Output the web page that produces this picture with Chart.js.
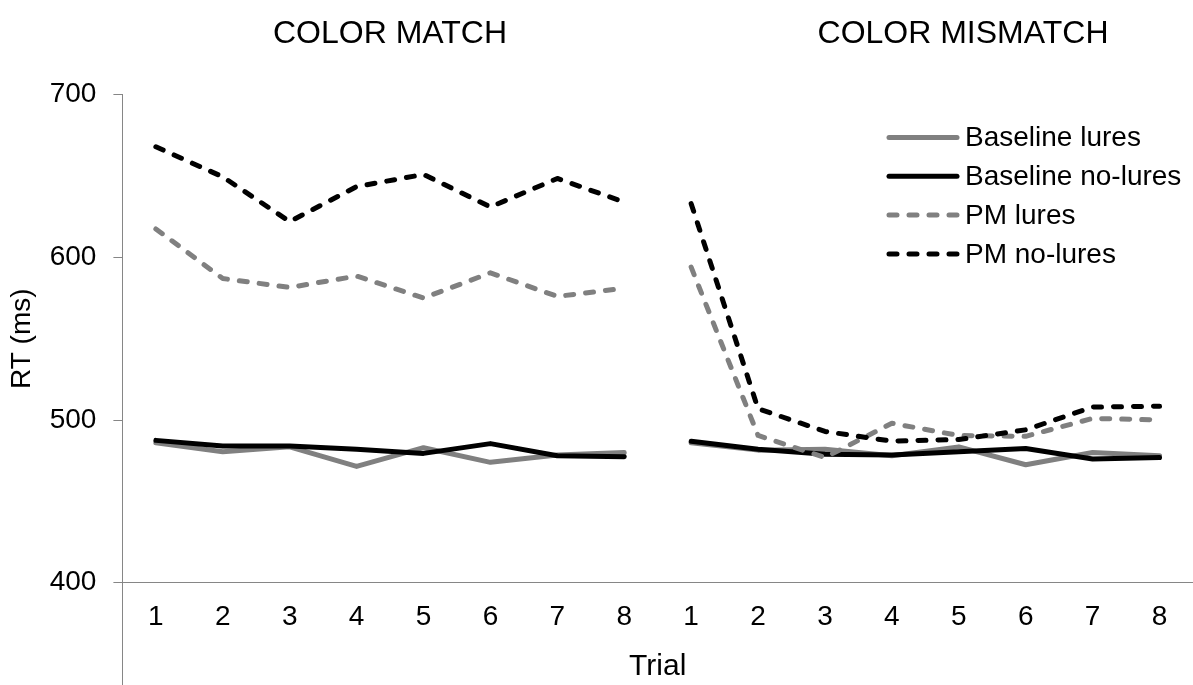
<!DOCTYPE html>
<html>
<head>
<meta charset="utf-8">
<script src="https://cdn.jsdelivr.net/npm/chart.js@4"></script>
<style>
  html, body { margin: 0; padding: 0; background: #fff; }
  #wrap { position: relative; width: 1193px; height: 685px; }
</style>
</head>
<body>
<div id="wrap"><canvas id="chart"></canvas></div>
<script>
// ── Data ─────────────────────────────────────────────────────────────────────

const TRIALS     = ['1', '2', '3', '4', '5', '6', '7', '8'];
const CONDITIONS = ['COLOR MATCH', 'COLOR MISMATCH'];
const SERIES     = ['Baseline lures', 'Baseline no-lures', 'PM lures', 'PM no-lures'];
const Y_TICKS    = [400, 500, 600, 700];

// RT (ms) per trial, color match block then color mismatch block
const BASE_LURES_MATCH      = [486, 480.5, 483.5, 471.5, 483, 474, 478.5, 480];
const BASE_LURES_MISMATCH   = [486, 481.5, 482, 478, 483.5, 472.5, 480, 478];
const BASE_NOLURES_MATCH    = [487.5, 484, 484, 482, 479.5, 485.5, 478, 477.5];
const BASE_NOLURES_MISMATCH = [487, 482, 479, 478.5, 480.5, 482.5, 476, 477];
const PM_LURES_MATCH        = [617.5, 587, 581.5, 588.5, 575, 590.5, 576, 581];
const PM_LURES_MISMATCH     = [594, 490.5, 477, 498, 490.5, 490, 501, 500];
const PM_NOLURES_MATCH      = [668, 649.5, 622, 643.5, 651, 631, 648.5, 634];
const PM_NOLURES_MISMATCH   = [633, 507, 493, 487, 488, 494, 508, 508.5];

const C_GREY  = '#808080';
const C_BLACK = '#000000';
const C_AXIS  = '#868686';
const FONT    = '"Liberation Sans", Arial, sans-serif';

Chart.defaults.font.family = FONT;
Chart.defaults.color = C_BLACK;

// ── Helpers ──────────────────────────────────────────────────────────────────

const labels = [...TRIALS, ...TRIALS];

// no connecting segment between trial 8 of one block and trial 1 of the next
const breakBlocks = ctx => ctx.p0DataIndex === TRIALS.length - 1 ? 'rgba(0,0,0,0)' : undefined;

function series(label, match, mismatch, color, dashed, order) {
  return {
    label,
    data: [...match, ...mismatch],
    borderColor: color,
    backgroundColor: color,
    borderWidth: 5,
    borderDash: dashed ? [8, 12] : [],
    borderCapStyle: 'round',
    borderJoinStyle: 'round',
    pointRadius: 0,
    pointHoverRadius: 0,
    tension: 0,
    fill: false,
    order,
    segment: { borderColor: breakBlocks },
  };
}

// ── Decorations: block titles, legend, axis extension ───────────────────────

const decorations = {
  id: 'decorations',
  afterDraw(chart) {
    const { ctx, chartArea } = chart;
    ctx.save();

    // the value axis runs on down past the trial labels
    const ax = Math.floor(chartArea.left) + 0.5;
    ctx.strokeStyle = C_AXIS;
    ctx.lineWidth = 1;
    ctx.beginPath();
    ctx.moveTo(ax, chartArea.bottom);
    ctx.lineTo(ax, chart.height);
    ctx.stroke();

    // block titles
    ctx.fillStyle = C_BLACK;
    ctx.font = '32px ' + FONT;
    ctx.textAlign = 'center';
    ctx.textBaseline = 'middle';
    const titleX = [390, 963];
    CONDITIONS.forEach((t, i) => ctx.fillText(t, titleX[i], 34));

    // legend
    ctx.font = '28px ' + FONT;
    ctx.textAlign = 'left';
    chart.data.datasets.forEach((ds, i) => {
      const y = 137.5 + i * 38.8;
      ctx.save();
      ctx.strokeStyle = ds.borderColor;
      ctx.lineWidth = ds.borderWidth;
      ctx.lineCap = 'round';
      ctx.setLineDash(ds.borderDash);
      ctx.beginPath();
      ctx.moveTo(889, y);
      ctx.lineTo(957, y);
      ctx.stroke();
      ctx.restore();
      ctx.fillText(ds.label, 965, y + 1);
    });

    ctx.restore();
  }
};

// ── Chart ────────────────────────────────────────────────────────────────────

new Chart(document.getElementById('chart'), {
  type: 'line',
  data: {
    labels,
    datasets: [
      series(SERIES[0], BASE_LURES_MATCH,   BASE_LURES_MISMATCH,   C_GREY,  false, 3),
      series(SERIES[1], BASE_NOLURES_MATCH, BASE_NOLURES_MISMATCH, C_BLACK, false, 2),
      series(SERIES[2], PM_LURES_MATCH,     PM_LURES_MISMATCH,     C_GREY,  true,  1),
      series(SERIES[3], PM_NOLURES_MATCH,   PM_NOLURES_MISMATCH,   C_BLACK, true,  0),
    ]
  },
  options: {
    responsive: true,
    maintainAspectRatio: false,
    animation: false,
    events: [],
    layout: { padding: { top: 94.7, left: 0, right: -2, bottom: 0 } },
    plugins: {
      legend: { display: false },
      title: { display: false },
      tooltip: { enabled: false },
    },
    scales: {
      x: {
        type: 'category',
        offset: true,
        grid: { display: false, drawTicks: false },
        border: { display: true, color: C_AXIS, width: 1 },
        ticks: { font: { size: 28 }, color: C_BLACK, padding: 18, maxRotation: 0, autoSkip: false },
        title: { display: true, text: 'Trial', font: { size: 30 }, color: C_BLACK, padding: { top: 0, bottom: 0 } },
        afterFit: s => { s.height = 102.3; },
      },
      y: {
        min: Y_TICKS[0],
        max: Y_TICKS[Y_TICKS.length - 1],
        afterBuildTicks: s => { s.ticks = Y_TICKS.map(v => ({ value: v })); },
        grid: { drawOnChartArea: false, drawTicks: true, tickLength: 9, color: C_AXIS },
        border: { display: true, color: C_AXIS, width: 1 },
        ticks: { font: { size: 28 }, color: C_BLACK, padding: 17 },
        title: { display: true, text: 'RT (ms)', font: { size: 28 }, color: C_BLACK, padding: { top: 5, bottom: 0 } },
        afterFit: s => { s.width = 122.4; },
      }
    }
  },
  plugins: [decorations]
});
</script>
</body>
</html>
